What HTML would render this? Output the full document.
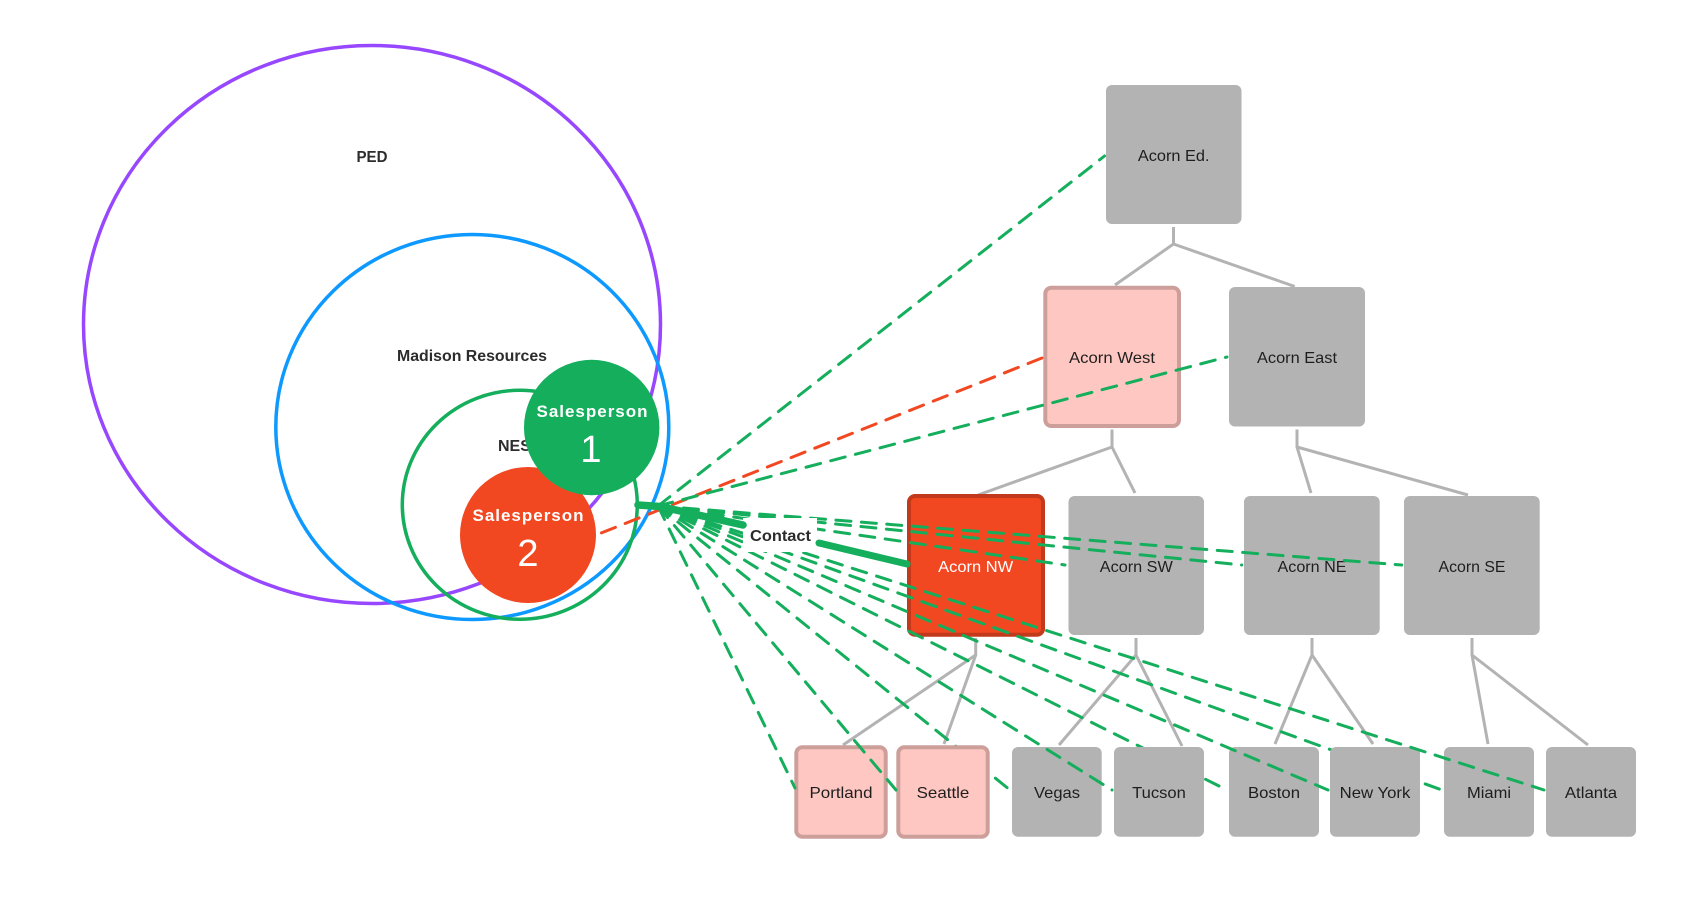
<!DOCTYPE html>
<html>
<head>
<meta charset="utf-8">
<style>
html,body{margin:0;padding:0;background:#fff;width:1701px;height:921px;overflow:hidden}
svg{display:block}
text{font-family:"Liberation Sans",sans-serif}
.t{font-size:16px;fill:#1e1e1e;text-anchor:middle}
.b{font-size:16px;font-weight:bold;fill:#2c2c2c;text-anchor:middle}
.g{fill:#b3b3b3}
.p{fill:#ffc7c2;stroke:#cc9f9b;stroke-width:4}
.tree{fill:none;stroke:#b3b3b3;stroke-width:3}
.d{fill:none;stroke:#14ae5c;stroke-width:3;stroke-dasharray:15 10.5;stroke-linecap:round}
</style>
</head>
<body>
<svg width="1701" height="921" viewBox="0 0 1701 921" xmlns="http://www.w3.org/2000/svg">
<rect width="1701" height="921" fill="#fff"/>

<!-- nested groups -->
<ellipse cx="372" cy="324.5" rx="288.5" ry="279" fill="none" stroke="#9747ff" stroke-width="3.5"/>
<ellipse cx="472.3" cy="427" rx="196.5" ry="192.5" fill="none" stroke="#0d99ff" stroke-width="3.5"/>
<ellipse cx="519.8" cy="504.8" rx="117.5" ry="114.5" fill="none" stroke="#14ae5c" stroke-width="3.5"/>
<text class="b" x="372" y="162" textLength="31" lengthAdjust="spacingAndGlyphs">PED</text>
<text class="b" x="472" y="361" textLength="150" lengthAdjust="spacingAndGlyphs">Madison Resources</text>
<text class="b" style="text-anchor:start" x="498" y="451">NES</text>

<!-- tree connectors -->
<g class="tree">
<polyline points="1173.5,227 1173.5,244 1115,285"/>
<polyline points="1173.5,244 1294.7,286.5"/>
<polyline points="1112,429.5 1112,447 978,495"/>
<polyline points="1112,447 1135,493"/>
<polyline points="1297,429.5 1297,447 1311,493"/>
<polyline points="1297,447 1468,495"/>
<polyline points="975.7,638 975.7,655 843,745"/>
<polyline points="975.7,655 944,744"/>
<polyline points="1136,638 1136,655 1059,745"/>
<polyline points="1136,655 1182,746"/>
<polyline points="1312,638 1312,655 1275,744"/>
<polyline points="1312,655 1373,744"/>
<polyline points="1472,638 1472,655 1488,744"/>
<polyline points="1472,655 1588,745"/>
</g>

<!-- upper boxes -->
<rect class="g" x="1106" y="85" width="135.5" height="139" rx="6"/>
<text class="t" x="1173.7" y="161" textLength="71.6" lengthAdjust="spacingAndGlyphs">Acorn Ed.</text>
<rect class="p" x="1045.3" y="287.7" width="133.7" height="138.3" rx="6"/>
<text class="t" x="1112" y="363" textLength="86" lengthAdjust="spacingAndGlyphs">Acorn West</text>
<rect class="g" x="1229" y="287" width="136" height="139.5" rx="6"/>
<text class="t" x="1297" y="363" textLength="80" lengthAdjust="spacingAndGlyphs">Acorn East</text>
<rect x="909" y="496" width="134" height="138.7" rx="6" fill="#f24822" stroke="#c2391b" stroke-width="4"/>
<text class="t" style="fill:#fff" x="975.7" y="572" textLength="75" lengthAdjust="spacingAndGlyphs">Acorn NW</text>
<rect class="g" x="1068.5" y="496" width="135.5" height="139" rx="6"/>
<text class="t" x="1136.3" y="572" textLength="73" lengthAdjust="spacingAndGlyphs">Acorn SW</text>
<rect class="g" x="1244" y="496" width="135.7" height="139" rx="6"/>
<text class="t" x="1312" y="572" textLength="69" lengthAdjust="spacingAndGlyphs">Acorn NE</text>
<rect class="g" x="1404" y="496" width="135.7" height="139" rx="6"/>
<text class="t" x="1472" y="572" textLength="67" lengthAdjust="spacingAndGlyphs">Acorn SE</text>

<!-- connectors always on top of upper boxes -->
<line class="d" x1="658" y1="506" x2="1104.5" y2="156"/>
<line class="d" style="stroke:#f24822" x1="1042" y1="358" x2="598.6" y2="534"/>
<line class="d" x1="658" y1="506" x2="1227" y2="357"/>
<line class="d" x1="658" y1="506" x2="1065" y2="565"/>
<line class="d" x1="658" y1="506" x2="1241.7" y2="565"/>
<line class="d" x1="658" y1="506" x2="1401.7" y2="565"/>

<!-- lines beneath lower boxes -->
<line class="d" x1="658" y1="506" x2="1010" y2="790"/>
<line class="d" x1="658" y1="506" x2="1227" y2="790"/>
<line class="d" x1="658" y1="506" x2="1442" y2="790"/>

<!-- lower boxes -->
<rect class="p" x="796.3" y="747.3" width="89.4" height="89.4" rx="6"/>
<text class="t" x="841" y="798" textLength="63" lengthAdjust="spacingAndGlyphs">Portland</text>
<rect class="p" x="898.3" y="747.3" width="89.4" height="89.4" rx="6"/>
<text class="t" x="943" y="798" textLength="52.7" lengthAdjust="spacingAndGlyphs">Seattle</text>
<rect class="g" x="1012" y="747" width="89.7" height="89.7" rx="6"/>
<text class="t" x="1057" y="798" textLength="46" lengthAdjust="spacingAndGlyphs">Vegas</text>
<rect class="g" x="1114" y="747" width="90" height="89.7" rx="6"/>
<text class="t" x="1159" y="798" textLength="53.7" lengthAdjust="spacingAndGlyphs">Tucson</text>
<rect class="g" x="1229" y="747" width="90" height="89.7" rx="6"/>
<text class="t" x="1274" y="798" textLength="52" lengthAdjust="spacingAndGlyphs">Boston</text>
<rect class="g" x="1330" y="747" width="90" height="89.7" rx="6"/>
<text class="t" x="1375" y="798" textLength="70.7" lengthAdjust="spacingAndGlyphs">New York</text>
<rect class="g" x="1444" y="747" width="90" height="89.7" rx="6"/>
<text class="t" x="1489" y="798" textLength="44" lengthAdjust="spacingAndGlyphs">Miami</text>
<rect class="g" x="1546" y="747" width="90" height="89.7" rx="6"/>
<text class="t" x="1591" y="798" textLength="52.3" lengthAdjust="spacingAndGlyphs">Atlanta</text>

<!-- lines above lower boxes -->
<line class="d" x1="658" y1="506" x2="795" y2="788"/>
<line class="d" x1="658" y1="506" x2="896" y2="790"/>
<line class="d" x1="658" y1="506" x2="1112" y2="790"/>
<line class="d" x1="658" y1="506" x2="1328" y2="790"/>
<line class="d" x1="658" y1="506" x2="1544" y2="790"/>

<!-- Contact connector and label -->
<rect x="743" y="518" width="74" height="34" fill="#fff"/>
<polyline points="638,505 660,506.5 743,525" fill="none" stroke="#14ae5c" stroke-width="7.5" stroke-linecap="round" stroke-linejoin="round"/>
<line x1="819" y1="543" x2="907" y2="564" stroke="#14ae5c" stroke-width="7" stroke-linecap="round"/>
<text class="b" x="780.5" y="541" textLength="61" lengthAdjust="spacingAndGlyphs">Contact</text>

<!-- salespeople -->
<circle cx="528" cy="535" r="68" fill="#f24822"/>
<text x="528" y="521" fill="#fff" font-size="17" font-weight="bold" text-anchor="middle" textLength="111" lengthAdjust="spacing">Salesperson</text>
<text x="528" y="566" fill="#fff" font-size="38" text-anchor="middle">2</text>
<circle cx="591.7" cy="427.5" r="67.7" fill="#14ae5c"/>
<text x="592" y="417" fill="#fff" font-size="17" font-weight="bold" text-anchor="middle" textLength="111" lengthAdjust="spacing">Salesperson</text>
<text x="591" y="462" fill="#fff" font-size="38" text-anchor="middle">1</text>
</svg>
</body>
</html>
